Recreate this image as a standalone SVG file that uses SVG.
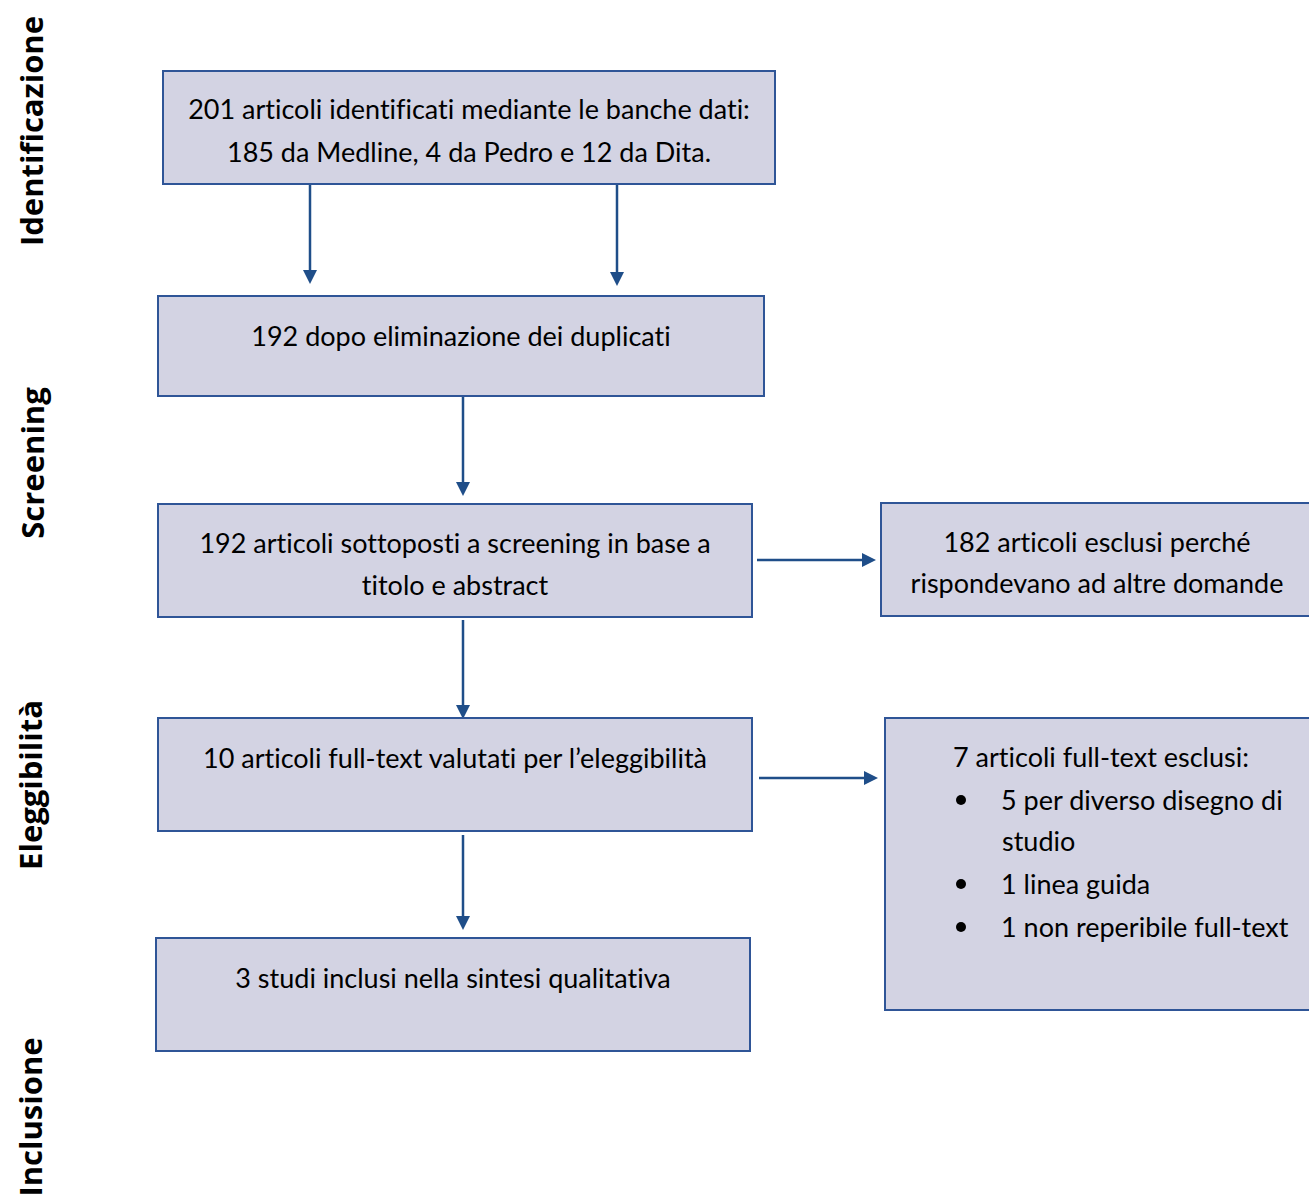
<svg xmlns="http://www.w3.org/2000/svg" width="1309" height="1194" viewBox="0 0 1309 1194">
<style>
.box{fill:#d3d3e3;stroke:#2f5597;stroke-width:2}
.t{font-family:Lato,"Open Sans","Liberation Sans",sans-serif;font-size:27px;fill:#000;font-variant-ligatures:none;font-feature-settings:"liga" 0,"dlig" 0}
.c{text-anchor:middle}
.side{font-family:"Open Sans",Lato,"Liberation Sans",sans-serif;font-size:31px;font-weight:bold;fill:#000;text-anchor:middle}
.con{stroke:#1f4e89;stroke-width:2.5;fill:none;marker-end:url(#ah)}
</style>
<defs>
<marker id="ah" markerWidth="14" markerHeight="14" refX="0" refY="7" markerUnits="userSpaceOnUse" orient="auto">
<path d="M0,0 L14,7 L0,14 Z" fill="#1f4e89"/>
</marker>
</defs>
<rect width="1309" height="1194" fill="#fff"/>
<g id="phases">
<text class="side" transform="translate(43,131) rotate(-90)">Identificazione</text>
<text class="side" transform="translate(44,463) rotate(-90)">Screening</text>
<text class="side" transform="translate(42,785) rotate(-90)">Eleggibilità</text>
<text class="side" transform="translate(42,1117) rotate(-90)">Inclusione</text>
</g>
<g id="connectors">
<line class="con" x1="310" y1="185" x2="310" y2="270"/>
<line class="con" x1="617" y1="185" x2="617" y2="272"/>
<line class="con" x1="463" y1="397" x2="463" y2="482"/>
<line class="con" x1="757" y1="560" x2="862" y2="560"/>
<line class="con" x1="463" y1="620" x2="463" y2="705"/>
<line class="con" x1="759" y1="778" x2="864" y2="778"/>
<line class="con" x1="463" y1="835" x2="463" y2="916"/>
</g>
<g id="n1">
<rect class="box" x="163" y="71" width="612" height="113"/>
<text class="t c" x="469" y="119">201 articoli identificati mediante le banche dati:</text>
<text class="t c" x="469" y="162">185 da Medline, 4 da Pedro e 12 da Dita.</text>
</g>
<g id="n2">
<rect class="box" x="158" y="296" width="606" height="100"/>
<text class="t c" x="461" y="346">192 dopo eliminazione dei duplicati</text>
</g>
<g id="n3">
<rect class="box" x="158" y="504" width="594" height="113"/>
<text class="t c" x="455" y="553">192 articoli sottoposti a screening in base a</text>
<text class="t c" x="455" y="595">titolo e abstract</text>
</g>
<g id="n4">
<rect class="box" x="881" y="503" width="440" height="113"/>
<text class="t c" x="1097" y="552">182 articoli esclusi perché</text>
<text class="t c" x="1097" y="593">rispondevano ad altre domande</text>
</g>
<g id="n5">
<rect class="box" x="158" y="718" width="594" height="113"/>
<text class="t c" x="455" y="768">10 articoli full-text valutati per l’eleggibilità</text>
</g>
<g id="n6">
<rect class="box" x="885" y="718" width="440" height="292"/>
<text class="t" x="953" y="767">7 articoli full-text esclusi:</text>
<circle cx="961" cy="800" r="5" fill="#000"/>
<circle cx="961" cy="884" r="5" fill="#000"/>
<circle cx="961" cy="927" r="5" fill="#000"/>
<text class="t" x="1001" y="810">5 per diverso disegno di</text>
<text class="t" x="1002" y="851">studio</text>
<text class="t" x="1001" y="894">1 linea guida</text>
<text class="t" x="1001" y="937">1 non reperibile full-text</text>
</g>
<g id="n7">
<rect class="box" x="156" y="938" width="594" height="113"/>
<text class="t c" x="453" y="988">3 studi inclusi nella sintesi qualitativa</text>
</g>
</svg>
